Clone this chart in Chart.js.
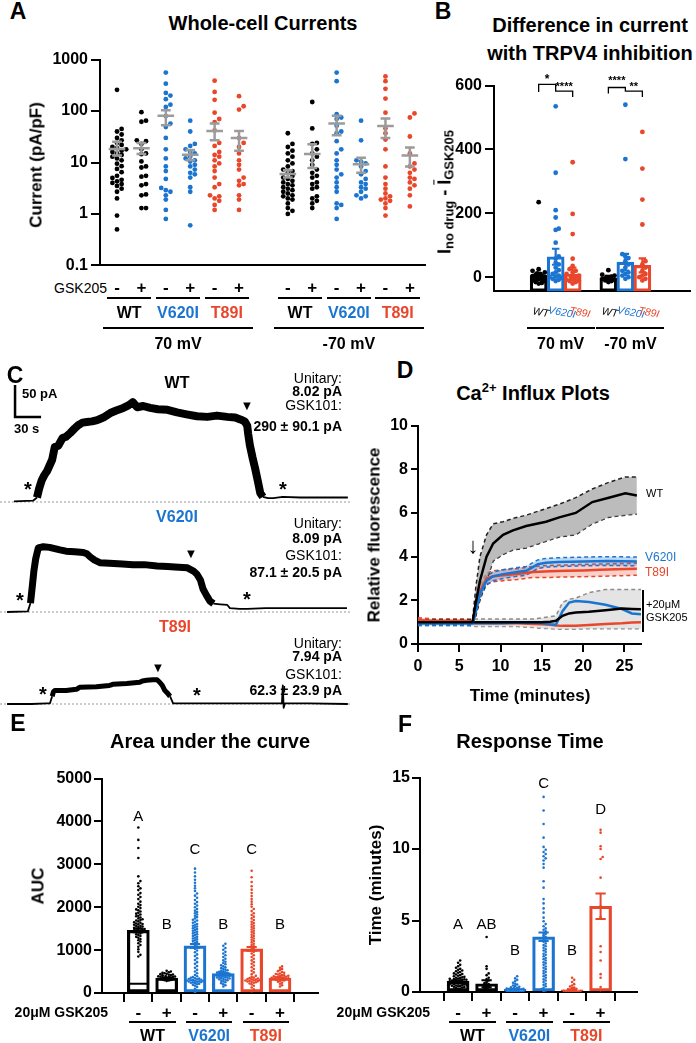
<!DOCTYPE html>
<html>
<head>
<meta charset="utf-8">
<script src="https://cdn.jsdelivr.net/npm/chart.js@4.4.1/dist/chart.umd.min.js"></script>
<style>
  body { margin: 0; background: #fff; }
  #fig { position: relative; width: 696px; height: 1043px; overflow: hidden; background: #fff;
         font-family: "Liberation Sans", Arial, sans-serif; color: #000; }
  #fig canvas { position: absolute; }
  .t { position: absolute; white-space: nowrap; line-height: 1; }
  .r { position: absolute; background: #000; }
  sub { font-size: 72%; vertical-align: -0.25em; }
  sup { font-size: 65%; vertical-align: 0.55em; }
</style>
</head>
<body>
<div id="fig"></div>
<script>
// ---------- A: whole-cell current density (pA/pF) ----------
// order: 70 mV (WT -, WT +, V620I -, V620I +, T89I -, T89I +), then -70 mV
const curWT70Ctl  = [258, 45, 40, 35, 30, 27, 24, 22, 20, 19, 18, 17, 16, 15, 14, 13, 12, 11, 9.5, 8.5, 7.5, 6.5, 5.5, 5, 4.6, 4.3, 4.0, 3.8, 3.5, 3.1, 2.7, 2.0, 0.93, 0.5];
const curWT70Gsk  = [95, 65, 62, 27, 26, 23, 18, 15, 14.5, 10.5, 8.4, 8, 5.5, 5.3, 3.8, 3.6, 2.4, 2.3, 1.3, 1.3];
const curV70Ctl   = [560, 340, 225, 200, 170, 133, 120, 80, 57, 49, 30, 18, 12, 8.4, 6.8, 4.8, 3.2, 2.9, 2.7, 2.3, 1.9, 1.2, 0.8];
const curV70Gsk   = [65, 40, 23, 21, 18, 16, 15, 13, 12, 11, 10.4, 9, 8.4, 7.3, 6.3, 5.9, 5.1, 3.3, 2.7, 0.6];
const curT70Ctl   = [390, 235, 165, 93, 70, 61, 42, 24, 21, 16, 14, 13, 11, 9.6, 8.4, 6.8, 5.1, 3.8, 3.3, 2.3, 2.2, 2.0, 1.8, 1.5, 1.2];
const curT70Gsk   = [195, 124, 107, 30, 24, 20, 15, 11, 9, 7.3, 5.1, 4.4, 3.8, 3.6, 2.3, 1.9, 1.2];
const curWTm70Ctl = [37, 23, 20, 17, 15, 13, 11, 9.6, 8.4, 7.3, 6.8, 6.3, 5.5, 5.1, 4.8, 4.4, 4.1, 3.8, 3.6, 3.3, 3.1, 2.9, 2.7, 2.5, 2.3, 2.2, 2.0, 1.9, 1.6, 1.3, 1.15, 1.0];
const curWTm70Gsk = [150, 46, 24, 23, 18, 15, 13, 11, 9, 7.3, 6.3, 5.5, 5.1, 4.1, 3.8, 3.3, 3.1, 2.2, 2.0, 1.8, 1.6, 1.3];
const curVm70Ctl  = [560, 380, 87, 75, 70, 52, 40, 37, 26, 18, 15, 11, 9, 7.3, 5.9, 5.1, 4.1, 3.3, 2.7, 1.6, 1.5, 1.3, 0.8];
const curVm70Gsk  = [65, 27, 11, 10.4, 9.6, 8.4, 6.8, 5.9, 4.8, 4.1, 3.8, 3.3, 3.1, 2.7, 2.3, 2.2, 2.0];
const curTm70Ctl  = [470, 380, 270, 175, 93, 46, 37, 28, 18, 8.4, 5.1, 3.8, 3.1, 2.5, 2.2, 2.0, 1.9, 1.8, 1.6, 1.3, 0.93];
const curTm70Gsk  = [90, 75, 32, 15, 9.6, 8.4, 7.3, 6.3, 5.1, 4.8, 4.1, 3.6, 3.1, 2.3, 1.4];
const curMean  = [18.3, 19, 81, 14.1, 41, 30, 6.0, 14.7, 57, 9.2, 51, 13.7];
const curSemLo = [13.7, 14.7, 53, 11.1, 27, 17, 5.1, 7.8, 34, 6.3, 30, 8.4];
const curSemHi = [25.3, 24, 104, 17.5, 57, 41, 7.1, 22.6, 81, 12.3, 72, 19.6];
const curTicks = [0.1, 1, 10, 100, 1000];

// ---------- B: I(no drug) - mean I(GSK205) ----------
const difWT70  = [235, 25, 20, 15, 12, 10, 8, 6, 5, 4, 3, 2, 1, 0, 0, -1, -2, -3, -4, -5, -6, -8, -10, -12, -15, -18, -20];
const difV70   = [535, 327, 210, 187, 152, 148, 108, 65, 58, 45, 40, 30, 22, 15, 10, 5, 2, 0, -2, -5, -8, -12];
const difT70   = [360, 198, 135, 58, 35, 25, 20, 15, 10, 5, 2, 0, -2, -5, -8, -10, -12, -15, -20];
const difWTm70 = [22, 8, 5, 2, 0, -2, -4, -6, -8, -10, -12, -15];
const difVm70  = [540, 370, 72, 65, 60, 50, 40, 30, 20, 15, 10, 5, 0, -5];
const difTm70  = [455, 340, 243, 165, 50, 40, 30, 20, 10, 5, 0, -5, -10];
const difMean = [5, 64, 10, 0, 47, 37];
const difSem  = [6, 25, 20, 4, 26, 22];
const difTicks = [0, 200, 400, 600];

// ---------- C: GSK101 current traces (time s, current pA) ----------
const wtTraceT = [0, 22, 26.5, 29, 32, 35, 38, 41, 44, 47, 51, 56, 60, 65, 70, 74, 79, 84, 90, 96, 103, 111, 118, 126, 132, 137, 142, 149, 157, 166, 177, 188, 199, 211, 223, 234, 246, 255, 261, 266, 269, 270, 272, 275, 278, 281, 284, 287, 293, 299, 310, 330, 360, 385];
const wtTraceI = [1, 2, 7, 21, 34, 42, 48, 57, 66, 86, 88, 100, 102, 108, 115, 120, 124, 125, 126, 128, 132, 139, 143, 147, 151, 156, 148, 150, 147, 145, 144, 140, 137, 134, 133, 135, 133, 132, 129, 126, 119, 107, 89, 70, 53, 34, 14, 8, 6, 6, 8, 7, 7, 7];
const vTraceT = [-8, 16, 19, 21, 23, 25, 28, 34, 41, 47, 53, 60, 70, 80, 84, 88, 93, 99, 110, 125, 137, 150, 165, 177, 190, 200, 207, 211, 215, 218, 222, 226, 230, 238, 246, 249, 260, 269, 290, 310, 340, 384];
const vTraceI = [0, 1, 14, 39, 65, 83, 100, 102, 101, 99, 97, 95, 94, 93, 91, 86, 81, 77, 76, 75, 74, 74, 72, 71, 70, 69, 64, 59, 50, 36, 26, 17, 13, 12, 11, 6, 5, 5, 6, 6, 6, 6];
const tTraceT = [-8, 20, 38, 41.5, 44, 45.5, 47, 60, 72, 74.5, 76, 95, 110, 112.5, 114, 130, 145, 148, 153, 160, 165, 168, 171, 174, 177, 180, 183.5, 200, 250, 309, 310, 311, 312.5, 340, 385];
const tTraceI = [0, 0, 1, 1, 12, 19, 21, 21, 23, 25, 26, 27, 29, 30, 31, 32, 34, 36, 37, 38, 38, 34, 29, 21, 17, 12, 1, 1, 1, 1, 29, -6, 1, 1, 0];
const scaleBarPA = 50, scaleBarS = 30;

// ---------- D: Ca2+ influx (relative fluorescence vs minutes) ----------
const wtT    = [0, 2, 4, 6, 6.6, 7.0, 7.5, 8.3, 9.1, 10.3, 11.5, 13.1, 15.5, 17.1, 19.1, 21.1, 23.1, 25.1, 26.5];
const wtMean = [1.0, 1.0, 1.0, 1.0, 1.0, 1.9, 2.9, 4.0, 4.6, 5.0, 5.2, 5.4, 5.6, 5.8, 6.0, 6.5, 6.7, 6.9, 6.8];
const wtUp   = [1.1, 1.1, 1.1, 1.1, 1.1, 2.6, 4.0, 5.0, 5.5, 5.6, 5.75, 5.9, 6.2, 6.4, 6.7, 7.1, 7.4, 7.65, 7.65];
const wtLo   = [0.9, 0.9, 0.9, 0.9, 0.9, 1.3, 2.0, 2.9, 3.8, 4.1, 4.3, 4.4, 4.7, 4.9, 5.0, 5.5, 5.8, 5.9, 5.95];
const vT     = [0, 2, 4, 6, 6.6, 7.0, 7.5, 8.3, 9.1, 10.3, 12, 13.1, 13.8, 14.5, 15.5, 17, 20, 23, 26.5];
const vMean  = [0.95, 0.95, 0.95, 0.95, 0.95, 1.5, 2.3, 2.9, 3.1, 3.2, 3.3, 3.35, 3.5, 3.65, 3.72, 3.75, 3.78, 3.8, 3.78];
const vUp    = [1.05, 1.05, 1.05, 1.05, 1.05, 1.7, 2.5, 3.1, 3.3, 3.4, 3.5, 3.55, 3.7, 3.85, 3.92, 3.95, 3.98, 4.0, 3.98];
const vLo    = [0.85, 0.85, 0.85, 0.85, 0.85, 1.3, 2.1, 2.7, 2.9, 3.0, 3.1, 3.15, 3.3, 3.45, 3.52, 3.55, 3.58, 3.6, 3.58];
const tT     = [0, 2, 4, 6, 6.6, 7.0, 7.5, 8.3, 9.1, 10.3, 12, 14, 16, 18, 20, 22, 24, 26.5];
const tMean  = [1.1, 1.05, 1.05, 1.05, 1.0, 1.6, 2.4, 3.0, 3.1, 3.15, 3.2, 3.3, 3.33, 3.35, 3.37, 3.4, 3.42, 3.45];
const tUp    = [1.2, 1.15, 1.15, 1.15, 1.1, 1.9, 2.7, 3.25, 3.35, 3.4, 3.45, 3.55, 3.6, 3.62, 3.65, 3.66, 3.68, 3.7];
const tLo    = [1.0, 0.95, 0.95, 0.95, 0.9, 1.3, 2.1, 2.75, 2.85, 2.9, 2.95, 3.05, 3.05, 3.07, 3.08, 3.1, 3.12, 3.15];
const gT     = [0, 2, 4, 6, 7, 8, 10, 12, 14, 15, 16, 16.7, 17.5, 18.3, 19.1, 20.7, 22.7, 24.7, 25.9, 27];
const gWT    = [1.0, 1.0, 1.0, 1.0, 1.0, 1.0, 1.0, 1.0, 1.0, 1.0, 1.02, 1.06, 1.29, 1.4, 1.44, 1.48, 1.55, 1.62, 1.6, 1.59];
const gV     = [0.95, 0.95, 0.95, 0.95, 0.95, 0.95, 0.95, 0.97, 0.98, 0.95, 0.9, 0.88, 1.5, 1.9, 1.97, 1.92, 1.8, 1.6, 1.4, 1.36];
const gTh    = [1.05, 1.0, 1.0, 1.0, 0.95, 0.95, 0.95, 0.95, 0.92, 0.9, 0.88, 0.85, 0.83, 0.83, 0.84, 0.87, 0.92, 0.95, 0.98, 1.0];
const gUp    = [1.15, 1.15, 1.15, 1.15, 1.15, 1.15, 1.15, 1.15, 1.15, 1.2, 1.25, 1.29, 1.9, 2.05, 2.1, 2.35, 2.5, 2.5, 2.5, 2.5];
const gLo    = [0.85, 0.85, 0.85, 0.85, 0.8, 0.8, 0.8, 0.8, 0.75, 0.72, 0.7, 0.68, 0.68, 0.68, 0.68, 0.7, 0.7, 0.7, 0.7, 0.7];
const influxXTicks = [0, 5, 10, 15, 20, 25];
const influxYTicks = [0, 2, 4, 6, 8, 10];

// ---------- E: area under the curve ----------
const aucWTCtl = [3860, 3570, 3380, 3150, 2720, 2610, 2560, 2490, 2440, 2400, 2330, 2290, 2240, 2190, 2130, 2080, 2050, 2010, 1980, 1950, 1930, 1900, 1870, 1850, 1830, 1800, 1790, 1760, 1740, 1720, 1700, 1690, 1670, 1650, 1640, 1620, 1610, 1600, 1590, 1570, 1560, 1550, 1540, 1520, 1510, 1500, 1490, 1480, 1470, 1460, 1450, 1440, 1420, 1410, 1390, 1370, 1350, 1330, 1310, 1290, 1260, 1230, 1200, 1160, 1120, 1080, 1020, 960, 890, 850];
const aucWTGsk = [520, 500, 485, 470, 460, 450, 440, 432, 425, 418, 410, 404, 398, 392, 386, 380, 375, 370, 365, 360, 356, 352, 348, 344, 340, 336, 332, 328, 324, 318, 312, 305, 298, 290, 280];
const aucVCtl = [2900, 2810, 2720, 2640, 2570, 2500, 2440, 2380, 2320, 2270, 2220, 2170, 2120, 2080, 2040, 2000, 1960, 1920, 1890, 1860, 1830, 1800, 1770, 1740, 1710, 1690, 1660, 1640, 1610, 1590, 1570, 1550, 1530, 1510, 1490, 1470, 1450, 1430, 1410, 1390, 1370, 1350, 1330, 1310, 1290, 1270, 1250, 1230, 1210, 1190, 1170, 1150, 1130, 1100, 1070, 1030, 990, 950, 900, 860, 810, 770, 720, 680, 630, 590, 540, 500, 460, 420, 390, 370, 355, 345, 335, 325, 318, 310, 303, 297, 291, 285, 280, 274, 268, 262, 255, 248, 240, 230, 218, 205, 190, 170, 140, 100, 60, 20];
const aucVGsk = [1150, 1100, 1050, 1010, 960, 920, 880, 840, 800, 760, 730, 700, 670, 645, 620, 600, 580, 560, 545, 530, 515, 505, 495, 485, 475, 466, 458, 450, 442, 434, 426, 418, 410, 402, 394, 386, 378, 370, 362, 354, 346, 338, 330, 320, 310, 298, 285, 270, 250, 230, 205, 180, 150];
const aucTCtl = [2850, 2700, 2590, 2490, 2410, 2330, 2260, 2190, 2130, 2070, 2010, 1960, 1910, 1860, 1820, 1780, 1740, 1700, 1660, 1630, 1600, 1570, 1540, 1510, 1480, 1450, 1420, 1390, 1360, 1330, 1300, 1270, 1240, 1210, 1180, 1150, 1120, 1090, 1060, 1030, 1000, 960, 920, 880, 840, 800, 760, 720, 680, 640, 600, 560, 520, 480, 440, 400, 375, 358, 346, 336, 327, 319, 311, 304, 297, 290, 283, 276, 268, 260, 250, 238, 222, 200, 170, 130, 85, 40];
const aucTGsk = [620, 590, 560, 535, 510, 490, 472, 456, 442, 430, 420, 410, 402, 394, 387, 380, 373, 367, 361, 355, 349, 343, 337, 331, 325, 318, 310, 301, 290, 278, 262, 240, 215, 180, 150];
const aucMean = [1460, 350, 1100, 450, 1030, 350];
const aucSem  = [45, 12, 45, 18, 45, 12];
const aucWTBase = 216;
const aucTicks = [0, 1000, 2000, 3000, 4000, 5000];

// ---------- F: response time (minutes) ----------
const rtWTCtl = [2.2, 2.05, 1.9, 1.8, 1.7, 1.62, 1.55, 1.5, 1.45, 1.4, 1.35, 1.3, 1.26, 1.22, 1.18, 1.14, 1.1, 1.06, 1.02, 1.0, 0.97, 0.94, 0.92, 0.9, 0.88, 0.86, 0.84, 0.82, 0.8, 0.78, 0.76, 0.74, 0.72, 0.7, 0.68, 0.66, 0.64, 0.62, 0.6, 0.58, 0.56, 0.54, 0.52, 0.5, 0.48, 0.46, 0.44, 0.42, 0.4, 0.37, 0.34, 0.31, 0.28, 0.25, 0.22, 0.18, 0.14, 0.1, 0.06, 0.03];
const rtWTGsk = [3.85, 1.8, 1.62, 1.3, 1.18, 1.0, 0.9, 0.8, 0.7, 0.62, 0.55, 0.48, 0.42, 0.35, 0.28, 0.22, 0.15, 0.08];
const rtVCtl = [1.1, 0.95, 0.85, 0.75, 0.65, 0.58, 0.52, 0.46, 0.41, 0.37, 0.33, 0.3, 0.27, 0.25, 0.23, 0.21, 0.19, 0.17, 0.16, 0.15, 0.14, 0.13, 0.12, 0.11, 0.1, 0.09, 0.08, 0.07, 0.06, 0.05, 0.04, 0.03, 0.02, 0.01, 0.0, 0.0, 0.0, 0.0];
const rtVGsk = [13.65, 12.7, 11.75, 10.8, 10.15, 9.95, 9.8, 9.65, 9.5, 9.35, 9.2, 8.95, 8.7, 7.75, 7.3, 6.5, 6.2, 5.85, 5.55, 5.2, 4.95, 4.75, 4.6, 4.45, 4.35, 4.25, 4.15, 4.05, 3.95, 3.85, 3.75, 3.6, 3.52, 3.4, 3.28, 3.2, 3.1, 2.98, 2.9, 2.8, 2.68, 2.6, 2.5, 2.38, 2.3, 2.2, 2.08, 2.0, 1.9, 1.78, 1.7, 1.6, 1.48, 1.4, 1.3, 1.18, 1.1, 1.0, 0.88, 0.8, 0.7, 0.58, 0.5, 0.4, 0.3, 0.2, 0.1, 0.05];
const rtTCtl = [1.0, 0.85, 0.7, 0.55, 0.45, 0.38, 0.32, 0.27, 0.22, 0.18, 0.15, 0.12, 0.1, 0.08, 0.06, 0.05, 0.04, 0.03, 0.02, 0.01, 0.0, 0.0];
const rtTGsk = [11.35, 11.15, 10.2, 10.0, 9.45, 9.3, 8.0, 6.0, 5.25, 3.2, 2.8, 2.2, 1.25, 1.0, 0.35, 0.12];
const rtMean = [0.76, 0.58, 0.2, 3.86, 0.15, 6.0];
const rtSem  = [0.06, 0.25, 0.03, 0.3, 0.05, 0.9];
const rtTicks = [0, 5, 10, 15];

// ---------- styling ----------
const BLACK = '#000', BLUE = '#1b75d0', RED = '#e8472b', GRAY = '#9b9b9b';
const GENO = [['WT', BLACK], ['V620I', BLUE], ['T89I', RED]];

Chart.defaults.font.family = '"Liberation Sans", Arial, sans-serif';
Chart.defaults.color = '#000';
Chart.defaults.plugins.legend.display = false;
Chart.defaults.plugins.tooltip.enabled = false;

const fig = document.getElementById('fig');

function chartAt(left, top, w, h, config) {
  const c = document.createElement('canvas');
  c.width = w; c.height = h;
  c.style.left = left + 'px'; c.style.top = top + 'px';
  c.style.width = w + 'px'; c.style.height = h + 'px';
  fig.appendChild(c);
  config.options = Object.assign({ responsive: false, animation: false, devicePixelRatio: 1, events: [] }, config.options);
  const ch = new Chart(c, config);
  ch.px = v => left + ch.scales.x.getPixelForValue(v);
  return ch;
}

function txt(s, x, y, o = {}) {
  const d = document.createElement('div');
  d.className = 't';
  d.innerHTML = s;
  const ax = o.align === 'r' ? '-100%' : o.align === 'l' ? '0' : '-50%';
  d.style.left = x + 'px';
  d.style.top = y + 'px';
  d.style.fontSize = (o.size || 14) + 'px';
  d.style.fontWeight = o.bold ? 'bold' : 'normal';
  if (o.italic) d.style.fontStyle = 'italic';
  d.style.color = o.color || '#000';
  d.style.transform = `translate(${ax},-50%)` + (o.rot ? ` rotate(${o.rot}deg)` : '');
  fig.appendChild(d);
}

function rule(x1, x2, y, w = 2) {
  const d = document.createElement('div');
  d.className = 'r';
  d.style.left = x1 + 'px'; d.style.top = (y - w / 2) + 'px';
  d.style.width = (x2 - x1) + 'px'; d.style.height = w + 'px';
  fig.appendChild(d);
}

function vrule(x, y1, y2, w = 1.5) {
  const d = document.createElement('div');
  d.className = 'r';
  d.style.left = (x - w / 2) + 'px'; d.style.top = y1 + 'px';
  d.style.width = w + 'px'; d.style.height = (y2 - y1) + 'px';
  fig.appendChild(d);
}

function valueAxis(o) {
  return {
    type: o.type || 'linear', min: o.min, max: o.max,
    afterFit: s => { s.width = o.width; },
    afterBuildTicks: s => { s.ticks = o.ticks.map(v => ({ value: v })); },
    border: { display: true, color: '#000', width: 2 },
    grid: { display: true, drawOnChartArea: false, drawTicks: true, tickLength: o.tick, color: '#000', lineWidth: 2 },
    ticks: { color: '#000', padding: o.pad, font: { size: o.size || 16, weight: 'bold' }, callback: v => String(v) }
  };
}

function slotAxis(min, max, h, slots, tick) {
  const ax = {
    type: 'linear', min, max,
    afterFit: s => { s.height = h; },
    border: { display: true, color: '#000', width: 2 },
    grid: { display: !!slots, drawOnChartArea: false, drawTicks: true, tickLength: tick || 0, color: '#000', lineWidth: 2 },
    ticks: { display: false }
  };
  if (slots) ax.afterBuildTicks = s => { s.ticks = slots.map(v => ({ value: v })); };
  return ax;
}

// deterministic beeswarm: horizontal pixel offsets so dots do not overlap
function swarm(vals, toPx, d, maxSteps) {
  const order = vals.map((v, i) => i).sort((a, b) => toPx(vals[a]) - toPx(vals[b]));
  const placed = [];
  const offs = new Array(vals.length).fill(0);
  order.forEach((i, n) => {
    const y = toPx(vals[i]);
    let chosen = null;
    for (let k = 0; k <= 2 * maxSteps; k++) {
      const dx = (k % 2 ? 1 : -1) * Math.ceil(k / 2) * d;
      const free = placed.every(p => (p.x - dx) ** 2 + (p.y - y) ** 2 >= d * d * 0.9);
      if (free) { chosen = dx; break; }
    }
    if (chosen === null) chosen = ((n * 3) % (2 * maxSteps + 1) - maxSteps) * d * 0.5;
    placed.push({ x: chosen, y });
    offs[i] = chosen;
  });
  return offs;
}

function dots(vals, slot, pxPerSlot, toPx, d, steps, color, r) {
  const offs = swarm(vals, toPx, d, steps);
  return {
    type: 'line', showLine: false, order: 2,
    data: vals.map((v, i) => ({ x: slot + offs[i] / pxPerSlot, y: v })),
    pointRadius: r, pointBackgroundColor: color, pointBorderWidth: 0, pointHoverRadius: 0
  };
}

function errBar(slot, mean, lo, hi, halfMean, halfCap, color, width) {
  const pts = [];
  if (halfMean) pts.push({ x: slot - halfMean, y: mean }, { x: slot + halfMean, y: mean }, { x: slot, y: null });
  pts.push({ x: slot, y: lo }, { x: slot, y: hi }, { x: slot, y: null },
           { x: slot - halfCap, y: lo }, { x: slot + halfCap, y: lo }, { x: slot, y: null },
           { x: slot - halfCap, y: hi }, { x: slot + halfCap, y: hi });
  return { type: 'line', order: 1, data: pts, borderColor: color, borderWidth: width, pointRadius: 0, spanGaps: false };
}

function series(xs, ys, color, width, extra = {}) {
  return Object.assign({
    type: 'line', data: xs.map((x, i) => ({ x, y: ys[i] })),
    borderColor: color, borderWidth: width, pointRadius: 0, fill: false
  }, extra);
}

// ================= Panel A =================
const aSlots = [0, 1, 2, 3, 4, 5, 7, 8, 9, 10, 11, 12];
const aVals = [curWT70Ctl, curWT70Gsk, curV70Ctl, curV70Gsk, curT70Ctl, curT70Gsk,
               curWTm70Ctl, curWTm70Gsk, curVm70Ctl, curVm70Gsk, curTm70Ctl, curTm70Gsk];
const aCol = i => GENO[Math.floor((i % 6) / 2)][1];
const aDS = [];
aVals.forEach((v, i) => aDS.push(dots(v, aSlots[i], 24.4, x => Math.log10(x) * 54.25, 4.6, 2, aCol(i), 2.4)));
aSlots.forEach((s, i) => aDS.push(errBar(s, curMean[i], curSemLo[i], curSemHi[i], 0.34, 0.2, GRAY, 2.5)));
const chA = chartAt(0, 47, 435, 231, {
  type: 'line', data: { datasets: aDS },
  options: {
    layout: { padding: { top: 10, right: 10, left: 0, bottom: 0 } },
    scales: {
      x: slotAxis(-0.697, 12.62, 4),
      y: valueAxis({ type: 'logarithmic', min: 0.1, max: 1000, width: 100, ticks: curTicks, tick: 9, pad: 3 })
    }
  }
});

txt('A', 18, 11, { size: 23, bold: true });
txt('Whole-cell Currents', 263, 23, { size: 20, bold: true });
txt('Current (pA/pF)', 36, 165, { size: 17, bold: true, rot: -90 });
txt('GSK205', 107, 288, { size: 14, align: 'r' });
aSlots.forEach((s, i) => txt(i % 2 ? '+' : '-', chA.px(s), 287, { size: 17, bold: true }));
for (let g = 0; g < 6; g++) {
  const a = chA.px(aSlots[2 * g]), b = chA.px(aSlots[2 * g + 1]);
  rule(a - 10, b + 10, 298);
  const [name, col] = GENO[g % 3];
  txt(name, (a + b) / 2, 313, { size: 16, bold: true, color: col });
}
[[0, 5, '70 mV'], [6, 11, '-70 mV']].forEach(([i0, i1, lab]) => {
  const a = chA.px(aSlots[i0]) - 14, b = chA.px(aSlots[i1]) + 14;
  rule(a, b, 328);
  txt(lab, (a + b) / 2, 344, { size: 16, bold: true });
});

// ================= Panel B =================
const bSlots = [0, 1, 2, 4.1, 5.1, 6.1];
const bVals = [difWT70, difV70, difT70, difWTm70, difVm70, difTm70];
const bCols = [BLACK, BLUE, RED, BLACK, BLUE, RED];
const bMin = -44.5;
const bDS = [{
  type: 'bar', order: 3, barThickness: 17, borderWidth: 2.5, borderSkipped: false,
  backgroundColor: 'rgba(255,255,255,0)', borderColor: bCols,
  data: bSlots.map((s, i) => ({ x: s, y: [bMin, difMean[i]] }))
}];
bVals.forEach((v, i) => bDS.push(dots(v, bSlots[i], 25.5, x => x * 0.3367, 4.6, 2, bCols[i], 2.4)));
bSlots.forEach((s, i) => bDS.push(errBar(s, difMean[i], difMean[i] - difSem[i], difMean[i] + difSem[i], 0, 0.22, bCols[i], 2.2)));
bDS.push({
  type: 'line', order: 0, clip: false, borderColor: BLACK, borderWidth: 1.3, pointRadius: 0,
  data: [{ x: 0, y: 580 }, { x: 0, y: 604 }, { x: 1, y: 604 }, { x: 1, y: 583 }, { x: 2, y: 583 }, { x: 2, y: 564 },
         { x: 2, y: null },
         { x: 4.1, y: 575 }, { x: 4.1, y: 594 }, { x: 5.1, y: 594 }, { x: 5.1, y: 583 }, { x: 6.1, y: 583 }, { x: 6.1, y: 564 }]
});
const chB = chartAt(440, 73, 256, 231, {
  type: 'line', data: { datasets: bDS },
  options: {
    layout: { padding: { top: 10, right: 6, left: 0, bottom: 0 } },
    scales: {
      x: slotAxis(-0.706, 6.98, 4),
      y: valueAxis({ min: bMin, max: 600, width: 54, ticks: difTicks, tick: 9, pad: 3 })
    }
  }
});
txt('B', 443, 11, { size: 23, bold: true });
txt('Difference in current', 590, 25, { size: 20, bold: true });
txt('with TRPV4 inhibition', 590, 53, { size: 20, bold: true });
txt('I<sub>no drug</sub> - <span style="text-decoration:overline">I</span><sub>GSK205</sub>', 446, 192, { size: 18, bold: true, rot: -90 });
txt('*', chB.px(0.5), 79, { size: 12, bold: true });
txt('****', chB.px(1.5), 86, { size: 11, bold: true });
txt('****', chB.px(4.6), 80, { size: 11, bold: true });
txt('**', chB.px(5.6), 86, { size: 11, bold: true });
const bLabShift = [2, 6, 7];
bSlots.forEach((s, i) => {
  const [name, col] = GENO[i % 3];
  txt(name, chB.px(s) + bLabShift[i % 3], 312, { size: 10.5, italic: true, color: col, rot: 10 });
});
[[0, 2, '70 mV'], [3, 5, '-70 mV']].forEach(([i0, i1, lab]) => {
  const a = chB.px(bSlots[i0]) - 12, b = chB.px(bSlots[i1]) + 22;
  rule(a, b, 328);
  txt(lab, (a + b) / 2, 344, { size: 16, bold: true });
});

// ================= Panel C =================
const T_MIN = -16.15, T_MAX = 387.5, PX_PER_PA = 0.64;
function traceChart(top, h, baseY, ts, is, active, noiseW, extra) {
  const pMax = (baseY - top) / PX_PER_PA, pMin = (baseY - (top + h)) / PX_PER_PA;
  const ds = [
    series(ts, is, BLACK, 1.8, {
      order: 1, borderJoinStyle: 'round',
      segment: { borderWidth: c => (c.p0.parsed.x >= active[0] && c.p1.parsed.x <= active[1]) ? noiseW : 1.8 }
    }),
    series([T_MIN, T_MAX], [0, 0], '#9a9a9a', 1, { order: 2, borderDash: [2, 2] })
  ].concat(extra || []);
  return chartAt(0, top, 350, h, {
    type: 'line', data: { datasets: ds },
    options: {
      layout: { padding: 0 },
      scales: { x: { type: 'linear', display: false, min: T_MIN, max: T_MAX },
                y: { type: 'linear', display: false, min: pMin, max: pMax } }
    }
  });
}
const barT0 = 1.2, barI0 = 133;
traceChart(370, 140, 502, wtTraceT, wtTraceI, [24, 290], 8, [
  series([barT0, barT0, barT0 + scaleBarS], [barI0 + scaleBarPA, barI0, barI0], BLACK, 2.5, { order: 0 })
]);
traceChart(535, 85, 612, vTraceT, vTraceI, [18, 232], 7);
traceChart(650, 62, 704, tTraceT, tTraceI, [43, 182], 5);

txt('C', 15, 375, { size: 23, bold: true });
txt('50 pA', 22, 393, { size: 13, bold: true, align: 'l' });
txt('30 s', 14, 428, { size: 13, bold: true, align: 'l' });
txt('WT', 177, 383, { size: 16, bold: true });
txt('V620I', 177, 517, { size: 16, bold: true, color: BLUE });
txt('T89I', 175, 627, { size: 16, bold: true, color: RED });
[[378, 391, 405, 426, '8.02 pA', '290 ± 90.1 pA'],
 [523, 538, 555, 572, '8.09 pA', '87.1 ± 20.5 pA'],
 [643, 656, 674, 690, '7.94 pA', '62.3 ± 23.9 pA']].forEach(([y1, y2, y3, y4, u, g]) => {
  txt('Unitary:', 342, y1, { size: 14, align: 'r' });
  txt(u, 342, y2, { size: 14, bold: true, align: 'r' });
  txt('GSK101:', 342, y3, { size: 14, align: 'r' });
  txt(g, 342, y4, { size: 14, bold: true, align: 'r' });
});
[[247, 405], [191, 553], [158, 667]].forEach(([x, y]) => txt('▼', x, y, { size: 13 }));
[[28, 489], [283, 489], [20, 600], [247, 599], [43, 694], [197, 695]].forEach(([x, y]) => txt('*', x, y, { size: 20, bold: true }));

// ================= Panel D =================
const dashed = { borderDash: [4, 3], borderWidth: 1.5, order: 2 };
const dDS = [
  series(wtT, wtMean, BLACK, 2.5, { order: 1 }),
  series(vT, vMean, BLUE, 2.5, { order: 1 }),
  series(tT, tMean, RED, 2.5, { order: 1 }),
  series(gT, gWT, BLACK, 2.5, { order: 1 }),
  series(gT, gV, BLUE, 2.5, { order: 1 }),
  series(gT, gTh, RED, 2.5, { order: 1 }),
  series(gT, gUp, '#8c8c8c', 1.5, Object.assign({}, dashed, { order: 3, fill: '+1', backgroundColor: 'rgba(205,205,205,0.55)' })),
  series(gT, gLo, '#8c8c8c', 1.5, Object.assign({}, dashed, { order: 3 })),
  series(wtT, wtUp, '#222', 1.5, Object.assign({}, dashed, { fill: '+1', backgroundColor: 'rgba(160,160,160,0.7)' })),
  series(wtT, wtLo, '#222', 1.5, dashed),
  series(vT, vUp, BLUE, 1.5, Object.assign({}, dashed, { fill: '+1', backgroundColor: 'rgba(27,117,208,0.28)' })),
  series(vT, vLo, BLUE, 1.5, dashed),
  series(tT, tUp, RED, 1.5, Object.assign({}, dashed, { fill: '+1', backgroundColor: 'rgba(232,71,43,0.25)' })),
  series(tT, tLo, RED, 1.5, dashed)
];
const dX = {
  type: 'linear', min: 0, max: 27,
  afterFit: s => { s.height = 35; },
  afterBuildTicks: s => { s.ticks = influxXTicks.map(v => ({ value: v })); },
  border: { display: true, color: '#000', width: 2 },
  grid: { display: true, drawOnChartArea: false, drawTicks: true, tickLength: 8, color: '#000', lineWidth: 2 },
  ticks: { color: '#000', padding: 5, maxRotation: 0, font: { size: 16, weight: 'bold' }, callback: v => String(v) }
};
chartAt(360, 413, 290, 266, {
  type: 'line', data: { datasets: dDS },
  options: {
    layout: { padding: { top: 10, right: 9, left: 0, bottom: 0 } },
    plugins: { filler: { propagate: false } },
    scales: { x: dX, y: valueAxis({ min: 0, max: 10, width: 58, ticks: influxYTicks, tick: 7, pad: 3 }) }
  }
});
txt('D', 405, 370, { size: 23, bold: true });
txt('Ca<sup>2+</sup> Influx Plots', 533, 392, { size: 20, bold: true });
txt('Relative fluorescence', 374, 535, { size: 17, bold: true, rot: -90 });
txt('Time (minutes)', 530, 695, { size: 17, bold: true });
txt('↓', 473, 546, { size: 22 });
txt('WT', 646, 493, { size: 11, align: 'l' });
txt('V620I', 645, 557, { size: 12, align: 'l', color: BLUE });
txt('T89I', 645, 572, { size: 12, align: 'l', color: RED });
vrule(643, 590, 632, 1.3);
txt('+20μM', 646, 604, { size: 11, align: 'l' });
txt('GSK205', 646, 617, { size: 11, align: 'l' });

// ================= Panels E and F =================
const sixSlots = [0, 1, 2, 3, 4, 5];
const sixCols = [BLACK, BLACK, BLUE, BLUE, RED, RED];

function barPanel(left, top, w, yWidth, padR, xmin, xmax, pxPerSlot, vals, means, sems, yMax, yTicks, toPx, extra) {
  const ds = [{
    type: 'bar', order: 3, barThickness: 22, borderWidth: 2.5, borderSkipped: false,
    backgroundColor: 'rgba(255,255,255,0)', borderColor: sixCols,
    data: sixSlots.map((s, i) => ({ x: s, y: means[i] }))
  }];
  vals.forEach((v, i) => ds.push(dots(v, sixSlots[i], pxPerSlot, toPx, 2.5, 4, sixCols[i], 1.3)));
  sixSlots.forEach((s, i) => ds.push(errBar(s, means[i], means[i] - sems[i], means[i] + sems[i], 0, 0.18, sixCols[i], 2)));
  if (extra) ds.push(extra);
  return chartAt(left, top, w, 238, {
    type: 'line', data: { datasets: ds },
    options: {
      layout: { padding: { top: 10, right: padR, left: 0, bottom: 0 } },
      scales: {
        x: slotAxis(xmin, xmax, 12, sixSlots, 9),
        y: valueAxis({ min: 0, max: yMax, width: yWidth, ticks: yTicks, tick: 8, pad: 2 })
      }
    }
  });
}

function groupRows(ch, labelRight) {
  txt('20μM GSK205', labelRight, 1012, { size: 14, bold: true, align: 'r' });
  sixSlots.forEach((s, i) => txt(i % 2 ? '+' : '-', ch.px(s), 1012, { size: 17, bold: true }));
  for (let g = 0; g < 3; g++) {
    const a = ch.px(2 * g) - 9, b = ch.px(2 * g + 1) + 9;
    rule(a, b, 1022);
    txt(GENO[g][0], (a + b) / 2, 1036, { size: 16, bold: true, color: GENO[g][1] });
  }
}

const chE = barPanel(0, 767, 330, 102, 12, -0.647, 5.706, 34,
  [aucWTCtl, aucWTGsk, aucVCtl, aucVGsk, aucTCtl, aucTGsk], aucMean, aucSem, 5000, aucTicks, v => v * 0.0432,
  { type: 'line', order: 1, data: [{ x: -0.32, y: aucWTBase }, { x: 0.32, y: aucWTBase }], borderColor: BLACK, borderWidth: 2, pointRadius: 0 });
txt('E', 18, 723, { size: 23, bold: true });
txt('Area under the curve', 210, 741, { size: 20, bold: true });
txt('AUC', 38, 886, { size: 17, bold: true, rot: -90 });
groupRows(chE, 108);
[['A', 0, 815], ['B', 1, 923], ['C', 2, 848], ['B', 3, 923], ['C', 4, 848], ['B', 5, 923]]
  .forEach(([l, s, y]) => txt(l, chE.px(s), y, { size: 15 }));

const chF = barPanel(355, 766, 290, 65, 8, -0.702, 5.643, 34.2,
  [rtWTCtl, rtWTGsk, rtVCtl, rtVGsk, rtTCtl, rtTGsk], rtMean, rtSem, 15, rtTicks, v => v * 14.47);
txt('F', 405, 724, { size: 23, bold: true });
txt('Response Time', 530, 741, { size: 20, bold: true });
txt('Time (minutes)', 375, 885, { size: 17, bold: true, rot: -90 });
groupRows(chF, 430);
[['A', 0, 923], ['AB', 1, 923], ['B', 2, 949], ['C', 3, 782], ['B', 4, 949], ['D', 5, 808]]
  .forEach(([l, s, y]) => txt(l, chF.px(s), y, { size: 15 }));
</script>
</body>
</html>
